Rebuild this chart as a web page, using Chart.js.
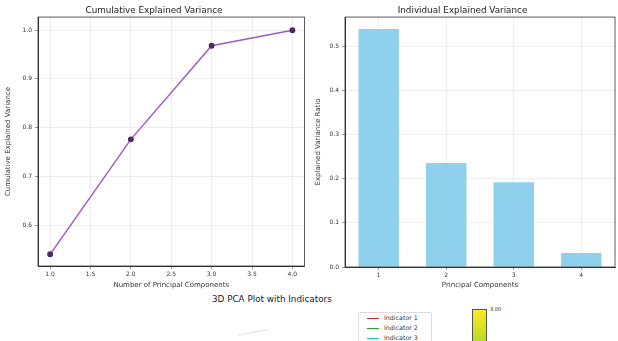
<!DOCTYPE html>
<html>
<head>
<meta charset="utf-8">
<script src="https://cdn.jsdelivr.net/npm/chart.js@4.4.0/dist/chart.umd.min.js"></script>
<style>
  body { margin: 0; background: #fff; width: 618px; height: 341px; overflow: hidden; position: relative; font-family: "DejaVu Sans", sans-serif; }
  canvas { position: absolute; top: 0; }
  #cum { left: 0; }
  #ind { left: 310px; }
  .txt { position: absolute; white-space: nowrap; color: #222; }
  #title3d { left: 212px; top: 294px; font-size: 8.8px; }
  #legend { position: absolute; left: 358px; top: 312px; width: 72px; height: 40px; border: 1px solid #ddd; border-radius: 2px; background: #fff; }
  .row { position: absolute; left: 8px; font-size: 6.3px; color: #333; }
  .row span { display: inline-block; width: 12px; height: 1px; vertical-align: middle; margin-right: 5px; }
  #cbar { position: absolute; left: 472px; top: 309px; width: 13px; height: 40px; background: linear-gradient(#fde725, #c8e020 60%, #90d743); border: 1px solid #555; }
  #cbtick { left: 490px; top: 306px; font-size: 5px; }
  #pane { position: absolute; left: 238px; top: 332px; width: 30px; height: 1px; background: #ddd; transform: rotate(-12deg); }
</style>
</head>
<body>
<canvas id="cum" width="310" height="292"></canvas>
<canvas id="ind" width="308" height="292"></canvas>
<div class="txt" id="title3d">3D PCA Plot with Indicators</div>
<div id="pane"></div>
<div id="legend">
  <div class="row" style="top:1px"><span style="background:#d62728"></span>Indicator 1</div>
  <div class="row" style="top:11px"><span style="background:#2ca02c"></span>Indicator 2</div>
  <div class="row" style="top:21px"><span style="background:#17becf"></span>Indicator 3</div>
</div>
<div id="cbar"></div>
<div class="txt" id="cbtick">3.00</div>
<script>
const components = [1, 2, 3, 4];
const cumulativeVariance = [0.540, 0.776, 0.968, 1.000];
const individualVariance = [0.540, 0.236, 0.192, 0.032];
const cumXTicks = [1.0, 1.5, 2.0, 2.5, 3.0, 3.5, 4.0];
const cumYTicks = [0.6, 0.7, 0.8, 0.9, 1.0];
const indYTicks = [0.0, 0.1, 0.2, 0.3, 0.4, 0.5];

Chart.defaults.font.family = '"DejaVu Sans", sans-serif';
Chart.defaults.color = '#333';
Chart.defaults.animation = false;

const frame = {
  id: 'frame',
  afterDraw(chart) {
    const a = chart.chartArea, ctx = chart.ctx;
    ctx.save();
    ctx.strokeStyle = '#333';
    ctx.lineWidth = 0.8;
    ctx.strokeRect(a.left, a.top, a.right - a.left, a.bottom - a.top);
    ctx.restore();
  }
};

const gridStyle = { color: '#e3e3e3', lineWidth: 0.6, tickLength: 3, tickColor: '#555' };
const tickFont = { size: 6 };
const xTitle = (text) => ({ display: true, text: text, font: { size: 7 }, padding: { top: 0, bottom: 3 } });
const yTitle = (text) => ({ display: true, text: text, font: { size: 7 }, padding: { top: 4, bottom: 0 } });
const chartTitle = (text) => ({ display: true, text: text, font: { size: 8.8, weight: 'normal' }, color: '#222', padding: { top: 5.5, bottom: 1 } });

new Chart(document.getElementById('cum'), {
  type: 'line',
  data: {
    datasets: [{
      data: components.map((c, i) => ({ x: c, y: cumulativeVariance[i] })),
      borderColor: '#a05cc0',
      borderWidth: 1.5,
      pointBackgroundColor: '#4e2a60',
      pointBorderColor: '#4e2a60',
      pointRadius: 2.2
    }]
  },
  options: {
    responsive: false,
    layout: { padding: { right: 2 } },
    plugins: { legend: { display: false }, title: chartTitle('Cumulative Explained Variance'), tooltip: { enabled: false } },
    scales: {
      x: {
        type: 'linear', min: 0.85, max: 4.15,
        afterBuildTicks: s => { s.ticks = cumXTicks.map(v => ({ value: v })); },
        afterFit: s => { s.height = 26; },
        ticks: { font: tickFont, padding: 2, callback: v => v.toFixed(1) },
        grid: gridStyle,
        border: { color: '#333' },
        title: xTitle('Number of Principal Components')
      },
      y: {
        min: 0.516, max: 1.027,
        afterBuildTicks: s => { s.ticks = cumYTicks.map(v => ({ value: v })); },
        afterFit: s => { s.width = 38; },
        ticks: { font: tickFont, padding: 3, callback: v => v.toFixed(1) },
        grid: gridStyle,
        border: { color: '#333' },
        title: yTitle('Cumulative Explained Variance')
      }
    }
  },
  plugins: [frame]
});

new Chart(document.getElementById('ind'), {
  type: 'bar',
  data: {
    labels: components.map(String),
    datasets: [{
      data: individualVariance,
      backgroundColor: '#8fd0ec',
      barPercentage: 0.6,
      categoryPercentage: 1.0
    }]
  },
  options: {
    responsive: false,
    layout: { padding: { right: 3 } },
    plugins: { legend: { display: false }, title: chartTitle('Individual Explained Variance'), tooltip: { enabled: false } },
    scales: {
      x: {
        afterFit: s => { s.height = 25; },
        ticks: { font: tickFont, padding: 2 },
        grid: Object.assign({ offset: false }, gridStyle),
        border: { color: '#333' },
        title: xTitle('Principal Components')
      },
      y: {
        min: 0, max: 0.567,
        afterBuildTicks: s => { s.ticks = indYTicks.map(v => ({ value: v })); },
        afterFit: s => { s.width = 35; },
        ticks: { font: tickFont, padding: 3, callback: v => v.toFixed(1) },
        grid: gridStyle,
        border: { color: '#333' },
        title: yTitle('Explained Variance Ratio')
      }
    }
  },
  plugins: [frame]
});
</script>
</body>
</html>
